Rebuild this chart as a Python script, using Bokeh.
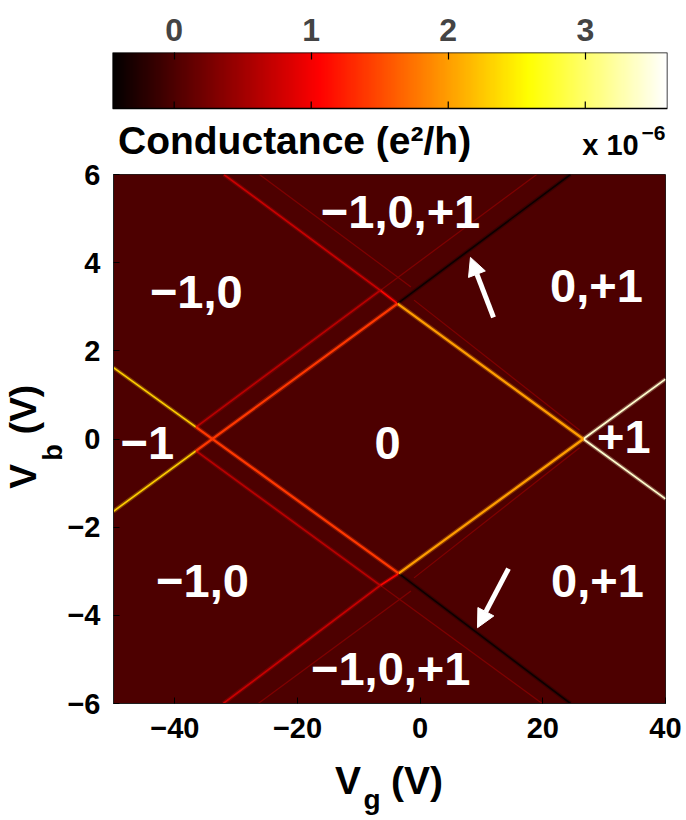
import numpy as np
from bokeh.plotting import figure
from bokeh.models import (LinearColorMapper, ColumnDataSource, FixedTicker,
                          Arrow, NormalHead, Range1d)
from bokeh.layouts import column, row
from bokeh.transform import transform
from bokeh.core.properties import value
from bokeh.embed import file_html
from bokeh.resources import INLINE

# ------------------------------------------------------------------ data
G_MIN, G_MAX = -0.45, 3.6          # colour scale limits (x 1e-6 e^2/h)
cbar_ticks = [0, 1, 2, 3]
x_ticks = [-40, -20, 0, 20, 40]
x_tick_labels = ["−40", "−20", "0", "20", "40"]
y_ticks = [-6, -4, -2, 0, 2, 4, 6]
y_tick_labels = ["−6", "−4", "−2", "0", "2", "4", "6"]
VG_RANGE = (-50, 40)
VB_RANGE = (-6, 6)
background_g = [0.0]

# bright diamond edges (Vg0, Vb0) -> (Vg1, Vb1), conductance
edge_vg0 = [-3.7, -3.5, -36.55, -36.55]
edge_vb0 = [3.07, -3.05, -0.27, 0.27]
edge_vg1 = [26.6, 26.6, -3.7, -3.5]
edge_vb1 = [0.0, 0.0, 3.07, -3.05]
edge_g = [2.0, 2.0, 1.4, 1.4]

# edge extensions beyond the diamond vertices
ext_vg0 = [-50.0, -50.0, 26.6, 26.6, -32.0, -6.5, -32.1, -6.5, -3.7, -3.5, -36.55, -36.55]
ext_vb0 = [-1.64, 1.62, 0.0, 0.0, 6.0, 3.37, -6.0, -3.32, 3.07, -3.05, 0.27, -0.27]
ext_vg1 = [-36.55, -36.55, 40.0, 40.0, -6.5, -3.7, -6.5, -3.5, 24.5, 24.5, -6.5, -6.5]
ext_vb1 = [-0.27, 0.27, -1.36, 1.36, 3.37, 3.07, -3.32, -3.05, 6.0, -6.0, 3.37, -3.32]
ext_g = [2.3, 2.3, 3.4, 3.4, 0.75, 1.1, 0.75, 1.1, -0.4, -0.4, 0.65, 0.65]

# faint parallel lines
faint_vg0 = [-6.5, -6.5, -26.2, -26.4, -1.0, -1.0]
faint_vb0 = [3.37, -3.32, 6.0, -6.0, 3.15, -3.15]
faint_vg1 = [19.0, 19.9, -1.5, -1.5, 26.0, 26.0]
faint_vb1 = [6.0, -6.0, 3.45, -3.45, 0.2, -0.2]
faint_g = [0.3, 0.3, 0.3, 0.3, 0.3, 0.3]

# arrows (tail -> head)
arrow_vg0 = [11.96, 14.4]
arrow_vb0 = [2.76, -2.94]
arrow_vg1 = [8.2, 9.35]
arrow_vb1 = [4.12, -4.28]

# charge-state labels
region_text = ["−1,0,+1", "−1,0", "0,+1", "−1", "0", "+1", "−1,0", "0,+1", "−1,0,+1"]
region_vg = [-3.2, -36.5, 28.75, -44.5, -5.3, 33.2, -35.5, 28.9, -4.8]
region_vb = [5.15, 3.33, 3.47, -0.08, -0.1, 0.05, -3.22, -3.22, -5.22]

# ------------------------------------------------------------------ colour map (MATLAB "hot")
m = 256
n = int(3 / 8 * m)
hot = []
for i in range(m):
    r = (i + 1) / n if i < n else 1.0
    gg = 0.0 if i < n else ((i - n + 1) / n if i < 2 * n else 1.0)
    b = 0.0 if i < 2 * n else (i - 2 * n + 1) / (m - 2 * n)
    hot.append("#%02x%02x%02x" % (round(min(r, 1) * 255), round(min(gg, 1) * 255), round(min(b, 1) * 255)))
mapper = LinearColorMapper(palette=hot, low=G_MIN, high=G_MAX)

FONT = "Liberation Sans"
TXT = dict(text_font=value(FONT), text_font_style="bold", text_color="black",
           text_baseline="middle")

TOP_H = 162                 # colour-bar panel (page 0 .. 162)
MAIN_H = 595                # main panel (page 162 .. 757)
MAIN_TOP_B = 12             # frame top at page 174
MAIN_BOT_B = 54             # frame bottom at page 703
FR_TOP = TOP_H + MAIN_TOP_B
FR_BOT = TOP_H + MAIN_H - MAIN_BOT_B

# ------------------------------------------------------------------ colour bar figure
cb = figure(width=686, height=TOP_H, x_range=Range1d(G_MIN, G_MAX),
            y_range=Range1d(-(TOP_H - 108) / 56, 1),
            output_backend="svg", toolbar_location=None, x_axis_location="above", title=None,
            y_axis_type=None,
            min_border_left=112, min_border_right=19, min_border_top=52, min_border_bottom=0)
grad = np.linspace(G_MIN, G_MAX, 512)[None, :]
cb.image(image=[grad], x=G_MIN, y=0, dw=G_MAX - G_MIN, dh=1, color_mapper=mapper)
cb.quad(left=G_MIN, right=G_MAX, bottom=0, top=1, fill_color=None, line_color="black",
        line_width=1.5)
tick_src = ColumnDataSource(dict(x=cbar_ticks, y0=[0] * len(cbar_ticks), y1=[7 / 56] * len(cbar_ticks)))
cb.segment("x", "y0", "x", "y1", source=tick_src, line_color="black", line_width=1.2)
cb.grid.visible = False
cb.outline_line_color = None
ax = cb.xaxis[0]
ax.ticker = FixedTicker(ticks=cbar_ticks)
ax.major_tick_in = 7
ax.major_tick_out = 0
ax.major_tick_line_width = 1.2
ax.minor_tick_line_color = None
ax.axis_line_color = None
ax.major_label_text_font = FONT
ax.major_label_text_font_style = "bold"
ax.major_label_text_font_size = "32px"
ax.major_label_standoff = 12
cb.text(x=[-0.41], y=[-0.571], text=["Conductance (e²/h)"], text_font_size=value("39px"),
        text_align="left", **TXT)
cb.text(x=[3.39], y=[-0.66], text=["x 10"], text_font_size=value("29px"),
        text_align="right", **TXT)
cb.text(x=[3.41], y=[-0.43], text=["−6"], text_font_size=value("21px"),
        text_align="left", **TXT)

# ------------------------------------------------------------------ main map
p = figure(width=623, height=MAIN_H, x_range=Range1d(*VG_RANGE), y_range=Range1d(*VB_RANGE),
           output_backend="svg", toolbar_location=None, title=None,
           min_border_left=50, min_border_right=21, min_border_top=MAIN_TOP_B,
           min_border_bottom=MAIN_BOT_B)
p.grid.visible = False
p.outline_line_color = "#202020"
p.outline_line_width = 1

bg_src = ColumnDataSource(dict(l=[VG_RANGE[0]], r=[VG_RANGE[1]], b=[VB_RANGE[0]],
                               t=[VB_RANGE[1]], g=background_g))
p.quad(left="l", right="r", bottom="b", top="t", source=bg_src,
       fill_color=transform("g", mapper), line_color=None)


def seg_group(x0, y0, x1, y1, g, width, glow):
    src = ColumnDataSource(dict(x0=x0, y0=y0, x1=x1, y1=y1, g=g))
    if glow:
        p.segment("x0", "y0", "x1", "y1", source=src, line_color=transform("g", mapper),
                  line_width=width + 2.5, line_alpha=0.3)
    p.segment("x0", "y0", "x1", "y1", source=src, line_color=transform("g", mapper),
              line_width=width)


seg_group(faint_vg0, faint_vb0, faint_vg1, faint_vb1, faint_g, 1.2, False)
seg_group(ext_vg0, ext_vb0, ext_vg1, ext_vb1, ext_g, 1.6, True)
seg_group(edge_vg0, edge_vb0, edge_vg1, edge_vb1, edge_g, 2.2, True)

arrow_src = ColumnDataSource(dict(x0=arrow_vg0, y0=arrow_vb0, x1=arrow_vg1, y1=arrow_vb1))
p.add_layout(Arrow(end=NormalHead(size=18, fill_color="white", line_color="white"),
                   x_start="x0", y_start="y0", x_end="x1", y_end="y1", source=arrow_src,
                   line_color="white", line_width=5))

p.text(x=region_vg, y=region_vb, text=region_text, text_font=value(FONT),
       text_font_style="bold", text_font_size=value("47px"), text_color="white",
       text_align="center", text_baseline="middle")

for axis in (p.xaxis[0], p.yaxis[0]):
    axis.major_tick_in = 6
    axis.major_tick_out = 0
    axis.minor_tick_line_color = None
    axis.major_tick_line_color = "black"
    axis.axis_line_color = "#202020"
    axis.major_label_text_font = FONT
    axis.major_label_text_font_style = "bold"
    axis.major_label_text_font_size = "29px"
    axis.major_label_text_color = "black"
p.xaxis.ticker = FixedTicker(ticks=x_ticks)
p.xaxis.major_label_overrides = {t: s for t, s in zip(x_ticks, x_tick_labels)}
p.xaxis.major_label_standoff = 14
p.yaxis.ticker = FixedTicker(ticks=y_ticks)
p.yaxis.major_label_overrides = {t: s for t, s in zip(y_ticks, y_tick_labels)}
p.yaxis.major_label_standoff = 13

# ------------------------------------------------------------------ y axis label  V_b (V)
# (its frame is aligned with the main frame: page y FR_TOP .. FR_BOT)
ylab = figure(width=63, height=MAIN_H, x_range=Range1d(0, 63),
              y_range=Range1d(FR_BOT, FR_TOP),
              x_axis_type=None, y_axis_type=None, output_backend="svg",
              toolbar_location=None, title=None, min_border_left=0, min_border_right=0,
              min_border_top=MAIN_TOP_B, min_border_bottom=MAIN_BOT_B)
ylab.grid.visible = False
ylab.outline_line_color = None
ylab.text(x=[22.5], y=[476], text=["V"], text_font_size=value("37px"), angle=np.pi / 2,
          text_align="center", **TXT)
ylab.text(x=[52.5], y=[452], text=["b"], text_font_size=value("27px"), angle=np.pi / 2,
          text_align="center", **TXT)
ylab.text(x=[22.5], y=[409], text=["(V)"], text_font_size=value("37px"), angle=np.pi / 2,
          text_align="center", **TXT)

# ------------------------------------------------------------------ x axis label  V_g (V)
# (its frame is aligned with the colour-bar frame: page x 112 .. 667)
XL_TOP = TOP_H + MAIN_H
xlab = figure(width=686, height=820 - XL_TOP, x_range=Range1d(112, 667),
              y_range=Range1d(820, XL_TOP),
              x_axis_type=None, y_axis_type=None, output_backend="svg",
              toolbar_location=None, title=None, min_border_left=112, min_border_right=19,
              min_border_top=0, min_border_bottom=0)
xlab.grid.visible = False
xlab.outline_line_color = None
xlab.text(x=[347.5], y=[780], text=["V"], text_font_size=value("39px"),
          text_align="center", **TXT)
xlab.text(x=[371.5], y=[799], text=["g"], text_font_size=value("28px"),
          text_align="center", **TXT)
xlab.text(x=[416.5], y=[780], text=["(V)"], text_font_size=value("39px"),
          text_align="center", **TXT)

layout = column(cb, row(ylab, p, spacing=0), xlab, spacing=0)
open("out.html", "w").write(file_html(layout, INLINE))
